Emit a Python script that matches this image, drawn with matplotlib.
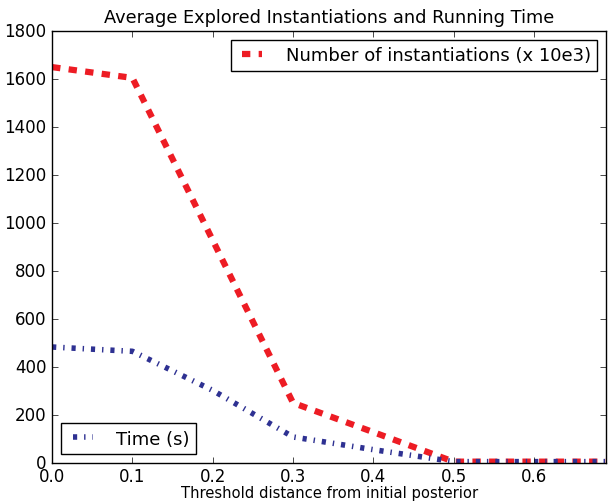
import matplotlib
matplotlib.use("Agg")
import matplotlib.pyplot as plt

plt.style.use("classic")

# threshold distance values
thresholds = [0.0, 0.1, 0.2, 0.3, 0.4, 0.5, 0.6, 0.69]
# number of instantiations (x 10e3)
instantiations = [1650, 1605, 928, 250, 128, 5, 5, 5]
# running time in seconds
times = [483, 465, 302, 108, 55, 5, 5, 5]

RED = "#ed1c24"
BLUE = "#2e3192"

fig = plt.figure(figsize=(6.13, 5.02), dpi=100)
ax = fig.add_axes([0.085, 0.076, 0.904, 0.860])

l_inst, = ax.plot(thresholds, instantiations, linestyle="--", color=RED,
                  linewidth=4.5, label="Number of instantiations (x 10e3)")
l_time, = ax.plot(thresholds, times, linestyle="-.", color=BLUE,
                  linewidth=4, label="Time (s)")

ax.set_xlim(0, 0.69)
ax.set_ylim(0, 1800)
ax.set_xticks([0.0, 0.1, 0.2, 0.3, 0.4, 0.5, 0.6])
ax.set_title("Average Explored Instantiations and Running Time",
             fontsize=12.8, y=1.005)
ax.set_xlabel("Threshold distance from initial posterior", fontsize=10.6,
              labelpad=0)
ax.tick_params(labelsize=12)
ax.tick_params(axis="x", pad=3)

leg1 = ax.legend(handles=[l_inst], loc="upper right", fontsize=13,
                 handlelength=1.7, handletextpad=1.0, borderpad=0.35)
ax.add_artist(leg1)
ax.legend(handles=[l_time], loc="lower left", fontsize=13,
          handlelength=1.7, handletextpad=1.0, borderpad=0.35)

fig.savefig("out.png", dpi=100)
